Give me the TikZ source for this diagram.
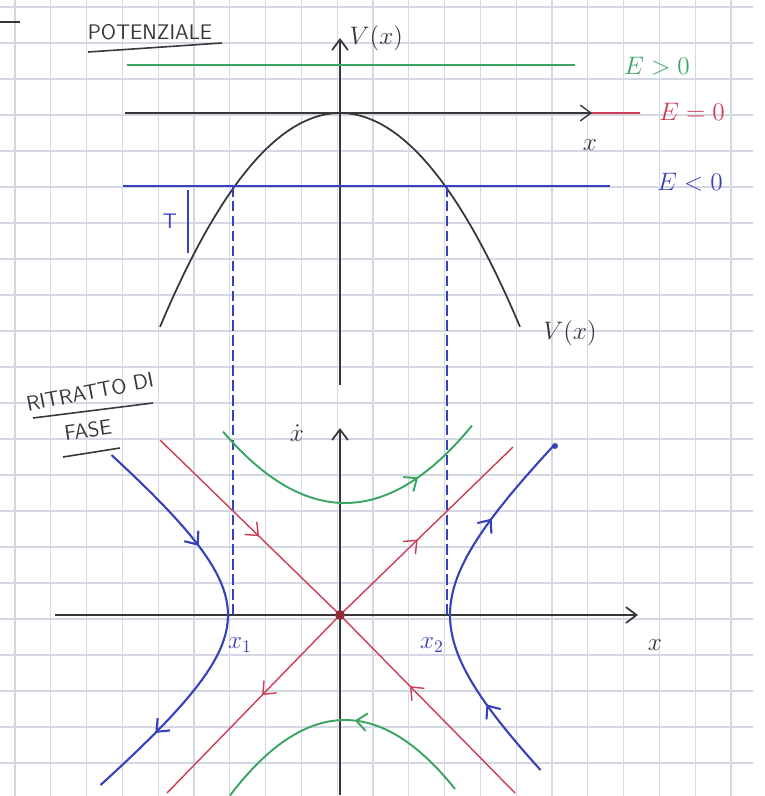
\documentclass[tikz,border=0pt]{standalone}
\usepackage{amsmath}
\usetikzlibrary{arrows.meta,decorations.markings,positioning}
\definecolor{gridc}{RGB}{212,215,228}
\definecolor{egreen}{RGB}{60,165,100}
\definecolor{ered}{RGB}{205,60,85}
\definecolor{eblue}{RGB}{55,65,185}
\definecolor{ink}{RGB}{55,55,55}

\begin{document}
\begin{tikzpicture}[x=0.02cm,y=-0.02cm,font=\sffamily,
  axis/.style={ink,line width=1pt},
  lvl/.style={line width=1.1pt},
  tip/.style={-{Straight Barb[length=6pt,width=9pt]}},
  flow/.style={postaction={decorate,decoration={markings,
    mark=at position #1 with {\arrow{Straight Barb[length=6pt,width=10pt]}}}}},
  lab/.style={font=\Large}]
\useasboundingbox (0,0) rectangle (765,796);
% grid paper
\foreach \i in {0,...,20} \draw[gridc,line width=0.7pt] ({15+35.8*\i},0) -- ({15+35.8*\i},796);
\foreach \j in {0,...,21} \draw[gridc,line width=0.7pt] (0,{7+36*\j}) -- (753,{7+36*\j});
\draw[ink,line width=1pt] (0,22) -- (20,22);

% --- potential ---
\node[ink,font=\large\sffamily] (pot) at (150,32) {POTENZIALE};
\draw[ink,line width=0.9pt] (88,52) -- (222,43);
\coordinate (vbot) at (340,385);
\coordinate (vtop) at (340,38);
\draw[axis,tip] (vbot) -- (vtop);
\node[ink,lab,right=2pt of vtop] (vlab) {$V(x)$};

\draw[egreen,lvl] (127,65) -- (575,65);
\node[egreen,lab] (epos) at (657,66) {$E>0$};

\coordinate (xl) at (125,113);
\coordinate (xr) at (592,113);
\draw[ered,line width=1.6pt] (xl) -- (640,113);
\draw[ink,line width=0.8pt,tip] (xl) -- (xr);
\node[ered,lab] (ezero) at (692,112) {$E=0$};
\node[ink,lab] (xa) at (590,145) {$x$};

\draw[ink,line width=1pt,domain=160:520,samples=60]
  plot (\x,{113+0.66*((\x-340)/10)^2});
\node[ink,lab] (vx) at (570,333) {$V(x)$};

\draw[eblue,lvl] (123,186) -- (610,186);
\node[eblue,lab] (eneg) at (690,182) {$E<0$};
\draw[eblue,line width=1pt] (188,190) -- (188,253);
\node[eblue,font=\large\sffamily] (tmark) at (170,221) {T};
\draw[eblue,dash pattern=on 6pt off 2.5pt,line width=0.6pt] (233,186) -- (233,615);
\draw[eblue,dash pattern=on 6pt off 2.5pt,line width=0.6pt] (447,186) -- (447,615);

% --- phase portrait ---
\node[ink,font=\large\sffamily,rotate=11] (rit) at (90,392) {RITRATTO DI};
\draw[ink,line width=0.9pt] (33,418) -- (153,403);
\node[ink,font=\large\sffamily,rotate=8] (fase) at (88,430) {FASE};
\draw[ink,line width=0.9pt] (63,457) -- (120,448);

\coordinate (O) at (340,615);
\draw[axis,tip] (340,795) -- (340,428) coordinate (ytop);
\draw[axis,tip] (55,615) -- (638,615) coordinate (xtip);
\node[ink,lab] (xdot) at (297,433) {$\dot x$};
\node[ink,lab] (xb) at (655,645) {$x$};

% separatrices
\draw[ered,line width=0.8pt,flow=0.55] (160,440) -- (O);
\draw[ered,line width=0.8pt,flow=0.6] (515,793) -- (O);
\draw[ered,line width=0.8pt,flow=0.45] (O) -- (513,447);
\draw[ered,line width=0.8pt,flow=0.45] (O) -- (167,793);
\fill[ered!70!black] (O) circle (5);

% E>0
\draw[egreen,lvl,flow=0.75,domain=223:472,samples=50]
  plot (\x,{503-0.48*((\x-345)/10)^2});
\draw[egreen,lvl,flow=0.45,domain=455:230,samples=50]
  plot (\x,{720+0.57*((\x-345)/10)^2});

% E<0
\draw[eblue,line width=1.2pt,flow=0.3,flow=0.82,domain=-160:170,samples=60,variable=\t]
  plot ({340-100*sqrt(1.12^2+1.55*(\t/100)^2)},{615+\t});
\draw[eblue,line width=1.2pt,flow=0.22,flow=0.75,domain=155:-170,samples=60,variable=\t]
  plot ({340+100*sqrt(1.10^2+1.17*(\t/100)^2)},{615+\t});
\fill[eblue] (555,446) circle (3);
\node[eblue,lab] (x1) at (240,645) {$x_1$};
\node[eblue,lab] (x2) at (432,645) {$x_2$};
\end{tikzpicture}
\end{document}
